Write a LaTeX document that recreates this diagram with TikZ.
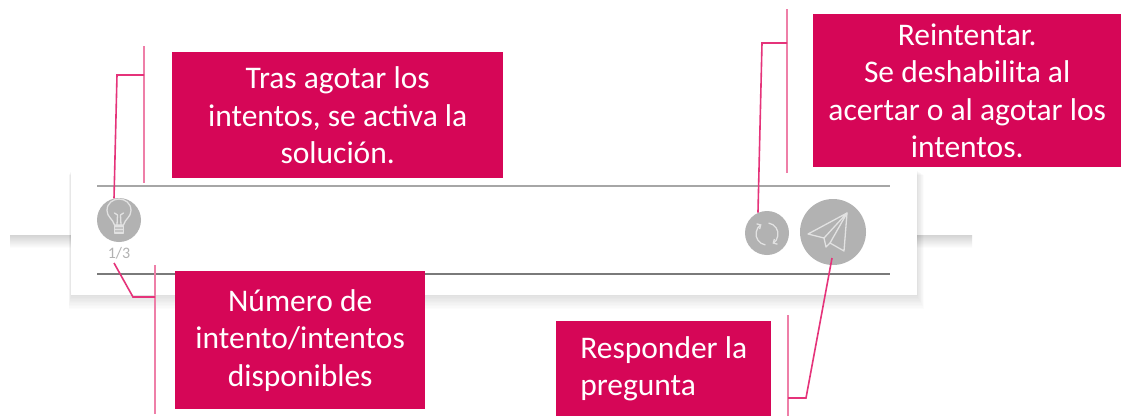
\documentclass[tikz,border=0pt]{standalone}
\usepackage{fontspec}
\setmainfont{Carlito}
\usetikzlibrary{arrows.meta}
\definecolor{boxc}{HTML}{D60657}
\definecolor{linec}{HTML}{E5337A}
\definecolor{vlinec}{HTML}{EE7FA8}
\definecolor{greyc}{HTML}{B2B2B2}
\definecolor{iconc}{HTML}{E2E2E2}
\tikzset{
  x=1pt,y=-1pt,
  callout/.style={fill=boxc,text=white,inner sep=0pt,align=center,anchor=north west,font=\fontsize{31.5}{37.5}\selectfont},
  leader/.style={draw=linec,line width=1.6pt},
  bracket/.style={draw=vlinec,line width=1.7pt},
  rule/.style={line width=1.5pt},
  roundbtn/.style={circle,fill=greyc,draw=none,inner sep=0pt},
  icon/.style={draw=iconc,line width=1.3pt,line join=round,line cap=round},
  retryarc/.style={icon,-{Straight Barb[length=3pt,width=6pt]}},
}
\begin{document}
\begin{tikzpicture}
\useasboundingbox (0,0) rectangle (1121,416);
\fill[white] (0,0) rectangle (1121,416);
% bands behind the card
\shade[top color=black!17,bottom color=white] (10,235) rectangle (71,248);
\shade[top color=black!17,bottom color=white] (917,235) rectangle (972,248);
% card shadow
\foreach \i in {10,9,8,7,6,5,4,3,2,1}{
  \fill[black,opacity=0.011] (71-\i*0.25,170+\i*0.5) rectangle (917+\i*0.7,295+\i*1.4);
}
\fill[white] (71,168) rectangle (917,295);
% rules
\coordinate (rt1) at (97,186); \coordinate (rt2) at (890,186);
\coordinate (rb1) at (97,274); \coordinate (rb2) at (890,274);
\draw[rule,draw=black!35] (rt1) -- (rt2);
\draw[rule,draw=black!52] (rb1) -- (rb2);
% buttons
\node[roundbtn,minimum size=44pt] (bulb) at (119,220) {};
\node[roundbtn,minimum size=44pt] (retry) at (767,233) {};
\node[roundbtn,minimum size=66pt] (send) at (833,232) {};
\node[text=greyc,inner sep=0pt,font=\fontsize{16}{16}\selectfont] (count) at (119,253) {1/3};
% bulb icon
\draw[icon] (114.5,225) .. controls (113,219) and (107,217) .. (107,210.5)
  .. controls (107,203) and (113,199) .. (119,199)
  .. controls (125,199) and (131,203) .. (131,210.5)
  .. controls (131,217) and (125,219) .. (123.5,225) -- cycle;
\draw[icon] (117,225) -- (117.5,215) (121,225) -- (120.5,215) (114.5,213) -- (117.5,215) (123.5,213) -- (120.5,215);
\draw[icon,fill=iconc!40!greyc] (114.5,226) rectangle (123.5,233);
\draw[icon] (114.5,229.5) -- (123.5,229.5);
% retry icon
\draw[retryarc] (767,234) ++(100:11) arc[start angle=100,end angle=240,radius=11];
\draw[retryarc] (767,234) ++(-80:11) arc[start angle=-80,end angle=60,radius=11];
% plane icon
\draw[icon] (847,213) -- (808,234) -- (824,238) -- cycle;
\draw[icon] (847,213) -- (844,251) -- (830,243) -- cycle;
\draw[icon] (824,238) -- (826,247) -- (830,243);
% callouts
\node[callout,minimum width=331pt,minimum height=126pt] (tras) at (172,52) {Tras agotar los\\intentos, se activa la\\solución.};
\node[callout,minimum width=250pt,minimum height=138pt] (numero) at (175,271) {Número de\\intento/intentos\\disponibles};
\node[callout,minimum width=308pt,minimum height=153pt] (reint) at (813,14) {Reintentar.\\Se deshabilita al\\acertar o al agotar los\\intentos.};
\node[callout,minimum width=215pt,minimum height=95pt,align=left] (resp) at (556,321) {Responder la\\pregunta};
% brackets and leaders
\coordinate (a1) at (144,46); \coordinate (a2) at (144,183); \coordinate (aj) at (144,75); \coordinate (ae) at (117,75);
\draw[bracket] (a1) -- (a2);
\draw[leader] (aj) -- (ae) -- (bulb.103);
\coordinate (b1) at (155,265); \coordinate (b2) at (155,414); \coordinate (bj) at (155,297); \coordinate (be) at (133,297); \coordinate (bs) at (114,263);
\draw[bracket] (b1) -- (b2);
\draw[leader] (bj) -- (be) -- (bs);
\coordinate (c1) at (787,9); \coordinate (c2) at (787,173); \coordinate (cj) at (787,43); \coordinate (ce) at (762,43);
\draw[bracket] (c1) -- (c2);
\draw[leader] (cj) -- (ce) -- (retry.114);
\coordinate (d1) at (788,315); \coordinate (d2) at (788,416); \coordinate (dj) at (788,398); \coordinate (de) at (806,398); \coordinate (ds) at (832,258);
\draw[bracket] (d1) -- (d2);
\draw[leader] (dj) -- (de) -- (ds);
\end{tikzpicture}
\end{document}
